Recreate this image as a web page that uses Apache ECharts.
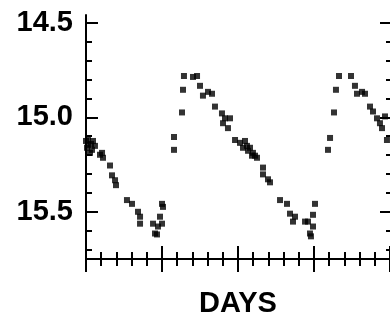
<!DOCTYPE html>
<html>
<head>
<meta charset="utf-8">
<script src="https://cdn.jsdelivr.net/npm/echarts@6/dist/echarts.min.js"></script>
<style>
  html, body { margin: 0; padding: 0; background: #fff; }
  #chart { width: 390px; height: 323px; }
</style>
</head>
<body>
<div id="chart"></div>
<script>
const days = [
  0.0, 0.26, 0.92, 0.13, 0.79, 1.18, 0.53, 0.26, 0.66, 1.84, 2.24, 2.11, 3.16, 3.42, 3.82, 3.95,
  5.39, 6.05, 6.84, 7.11, 7.11, 8.82, 9.08, 9.34, 9.74, 10.0, 9.47, 10.0, 10.13,
  11.58, 11.58, 12.63, 12.76, 12.89, 14.08, 14.61, 15.0, 15.39, 16.05, 16.58, 16.97,
  17.89, 18.29, 18.95, 18.03, 18.68, 19.61, 20.26, 20.92, 20.66, 21.18, 21.58, 21.32, 21.97,
  22.24, 22.5, 21.84, 23.29, 23.29, 23.95, 24.21, 25.53, 26.45, 26.84, 27.24, 27.5, 28.82,
  29.21, 29.47, 29.6, 29.87, 30.13, 29.87,
  31.84, 32.11, 32.63, 32.89, 33.29, 34.87, 35.39, 35.66, 36.32, 36.71, 37.37, 37.76,
  38.29, 38.68, 38.95, 39.34, 39.6
];
const mags = [
  15.125, 15.12, 15.125, 15.161, 15.172, 15.151, 15.188, 15.146, 15.141, 15.198, 15.214, 15.188, 15.255, 15.307, 15.333, 15.359,
  15.438, 15.458, 15.5, 15.526, 15.563, 15.563, 15.615, 15.62, 15.526, 15.563, 15.578, 15.458, 15.474,
  15.104, 15.172, 14.974, 14.854, 14.781, 14.786, 14.781, 14.833, 14.885, 14.865, 14.875, 14.943,
  14.979, 15.005, 15.005, 15.031, 15.057, 15.12, 15.135, 15.125, 15.161, 15.151, 15.161, 15.177, 15.188,
  15.203, 15.214, 15.203, 15.266, 15.302, 15.328, 15.344, 15.438, 15.458, 15.51, 15.552, 15.526, 15.552,
  15.552, 15.615, 15.63, 15.578, 15.458, 15.516,
  15.172, 15.109, 14.974, 14.854, 14.781, 14.781, 14.833, 14.875, 14.865, 14.875, 14.943, 14.969,
  15.005, 15.031, 15.057, 14.995, 15.12
];
const majorTicks = [14.5, 15.0, 15.5];
const minorTicks = [14.6, 14.7, 14.8, 14.9, 15.1, 15.2, 15.3, 15.4, 15.6, 15.7];

const magMin = 14.458;
const magMax = 15.75;
const font = 'Liberation Sans, Arial, sans-serif';
const black = '#000';

const points = days.map((d, i) => [d, mags[i]]);

// builds one of the stacked y axes (labels / major ticks / minor ticks, left or right)
const yAxisOf = (position, ticks, len, withLabels, withLine) => ({
  type: 'value',
  position: position,
  inverse: true,
  min: magMin,
  max: magMax,
  splitLine: { show: false },
  axisLine: { show: withLine, lineStyle: { color: black, width: 2 } },
  axisTick: {
    show: true,
    inside: true,
    length: len,
    customValues: ticks,
    lineStyle: { color: black, width: 2 }
  },
  axisLabel: {
    show: withLabels,
    customValues: majorTicks,
    margin: 13,
    color: black,
    fontFamily: font,
    fontWeight: 'bold',
    fontSize: 29,
    formatter: (v) => v.toFixed(1)
  }
});

const xAxisOf = (inside, withName) => ({
  type: 'value',
  position: 'bottom',
  min: 0,
  max: 40,
  interval: 10,
  name: withName ? 'DAYS' : '',
  nameLocation: 'middle',
  nameGap: 30,
  nameTextStyle: { color: black, fontFamily: font, fontWeight: 'bold', fontSize: 29 },
  splitLine: { show: false },
  axisLine: { show: true, lineStyle: { color: black, width: 2 } },
  axisTick: { show: true, inside: inside, length: 13, lineStyle: { color: black, width: 2 } },
  minorTick: { show: true, splitNumber: 5, length: 7, lineStyle: { color: black, width: 2 } },
  axisLabel: { show: false }
});

const chart = echarts.init(document.getElementById('chart'));
chart.setOption({
  animation: false,
  backgroundColor: '#fff',
  grid: { left: 86, right: 0, top: 15, bottom: 60 },
  xAxis: [xAxisOf(false, true), xAxisOf(true, false)],
  yAxis: [
    yAxisOf('left', majorTicks, 12, true, true),
    yAxisOf('left', minorTicks, 6, false, false),
    yAxisOf('right', majorTicks, 10, false, false),
    yAxisOf('right', minorTicks, 4, false, false)
  ],
  series: [
    {
      type: 'scatter',
      xAxisIndex: 0,
      yAxisIndex: 0,
      symbol: 'rect',
      symbolSize: 6,
      itemStyle: { color: black },
      data: points
    }
  ]
});
</script>
</body>
</html>
